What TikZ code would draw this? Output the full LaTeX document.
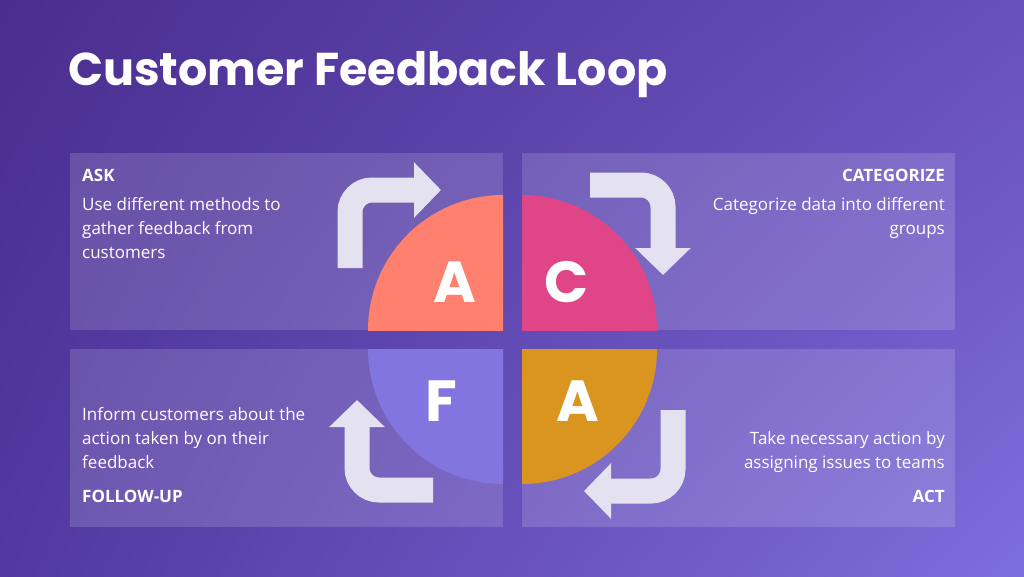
\documentclass[tikz,border=0pt]{standalone}
\usepackage{fontspec}
\setmainfont{Open Sans}
\newfontfamily\popb{Poppins}[UprightFont=* Bold]
\usetikzlibrary{arrows.meta,shadings}
\definecolor{bgA}{HTML}{4A2E8E}
\definecolor{bgB}{HTML}{6650BC}
\definecolor{bgC}{HTML}{5238A0}
\definecolor{bgD}{HTML}{7E6EDC}
\definecolor{qA}{HTML}{FF806E}
\definecolor{qC}{HTML}{DF4587}
\definecolor{qF}{HTML}{8275E0}
\definecolor{qG}{HTML}{D9951F}
\definecolor{arr}{HTML}{E4E2F0}
\tikzset{
 panel/.style={fill=white,fill opacity=0.15,draw=none},
 loop/.style={draw=arr,line width=25pt,rounded corners=22pt,-{Triangle[width=54pt,length=27pt]}},
 body/.style={text=white,font=\fontsize{17}{24}\selectfont,inner sep=0pt},
 head/.style={text=white,font=\fontsize{17}{24}\selectfont\bfseries,inner sep=0pt},
 letter/.style={text=white,font=\popb\fontsize{58}{60}\selectfont,inner sep=0pt}
}
\begin{document}
\begin{tikzpicture}[x=1pt,y=-1pt]
\useasboundingbox (0,0) rectangle (1024,576);
\shade[upper left=bgA,upper right=bgB,lower left=bgC,lower right=bgD] (0,0) rectangle (1024,576);
\node[anchor=west,text=white,font=\popb\fontsize{46}{50}\selectfont,inner sep=0pt] (title) at (68,75) {Customer Feedback Loop};
\fill[panel] (70,153) rectangle (503,330);
\fill[panel] (522,153) rectangle (955,330);
\fill[panel] (70,349) rectangle (503,527);
\fill[panel] (522,349) rectangle (955,527);
\coordinate (a1) at (350,268); \coordinate (a2) at (350,190); \coordinate (a3) at (441,190);
\coordinate (b1) at (590,185); \coordinate (b2) at (663,185); \coordinate (b3) at (663,275);
\coordinate (c1) at (673,410); \coordinate (c2) at (673,491); \coordinate (c3) at (584,491);
\coordinate (d1) at (433,490); \coordinate (d2) at (357,490); \coordinate (d3) at (357,400);
\draw[loop] (a1) -- (a2) -- (a3);
\draw[loop] (b1) -- (b2) -- (b3);
\draw[loop] (c1) -- (c2) -- (c3);
\draw[loop] (d1) -- (d2) -- (d3);
\begin{scope}\clip (368,195) rectangle (503,330); \fill[qA] (503,330) circle[radius=135]; \end{scope}
\begin{scope}\clip (522,195) rectangle (657,330); \fill[qC] (522,330) circle[radius=135]; \end{scope}
\begin{scope}\clip (368,349) rectangle (503,484); \fill[qF] (503,349) circle[radius=135]; \end{scope}
\begin{scope}\clip (522,349) rectangle (657,484); \fill[qG] (522,349) circle[radius=135]; \end{scope}
\node[letter] (LA) at (455,282) {A};
\node[letter] (LC) at (567,282) {C};
\node[letter] (LF) at (441,401) {F};
\node[letter] (LG) at (578,401) {A};
\node[head,anchor=west] (h1) at (82,175) {ASK};
\node[body,anchor=north west,align=left] (t1) at (82,197) {Use different methods to\\gather feedback from\\customers};
\node[head,anchor=east] (h2) at (945,175) {CATEGORIZE};
\node[body,anchor=north east,align=right] (t2) at (945,197) {Categorize data into different\\groups};
\node[body,anchor=north west,align=left] (t3) at (82,407) {Inform customers about the\\action taken by on their\\feedback};
\node[head,anchor=west] (h3) at (82,496) {FOLLOW-UP};
\node[body,anchor=north east,align=right] (t4) at (945,431) {Take necessary action by\\assigning issues to teams};
\node[head,anchor=east] (h4) at (945,496) {ACT};
\end{tikzpicture}
\end{document}
